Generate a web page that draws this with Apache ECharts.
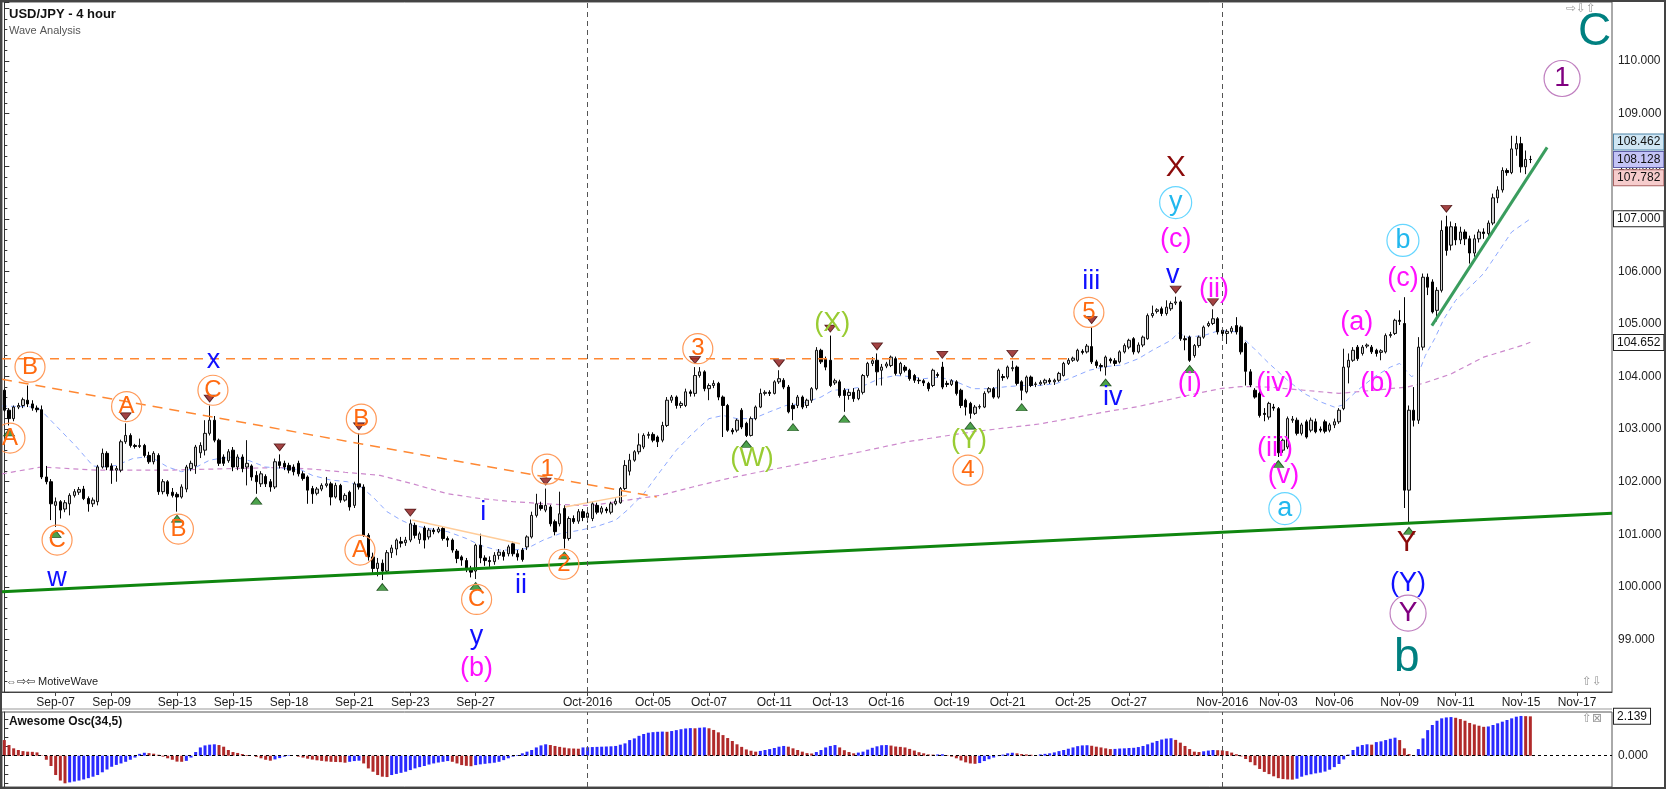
<!DOCTYPE html>
<html><head><meta charset="utf-8">
<script src="https://cdn.jsdelivr.net/npm/echarts@6/dist/echarts.min.js"></script>
<style>html,body{margin:0;padding:0;background:#fff}#c{width:1668px;height:789px}</style>
</head><body><div id="c"></div>
<script>
// ---------- DATA ----------
const tickIndex = [11,23,37,49,61,75,87,101,125,139,151,165,177,189,203,215,229,241,261,273,285,299,311,325,337];
const tickLabels = ['Sep-07','Sep-09','Sep-13','Sep-15','Sep-18','Sep-21','Sep-23','Sep-27','Oct-2016','Oct-05','Oct-07','Oct-11','Oct-13','Oct-16','Oct-19','Oct-21','Oct-25','Oct-27','Nov-2016','Nov-03','Nov-06','Nov-09','Nov-11','Nov-15','Nov-17'];
const slotCount = 345;
// [open, close, low, high] per 4-hour candle
const candles = [
[103.74,103.36,103.33,103.77],[103.36,103.20,103.07,103.40],[103.20,103.42,103.15,103.45],[103.42,103.45,103.38,103.50],[103.45,103.56,103.40,103.60],[103.55,103.48,103.42,103.83],[103.48,103.40,103.35,103.55],[103.40,103.37,103.32,103.45],[103.37,102.09,102.05,103.45],[102.09,102.00,101.95,102.30],
[102.00,101.58,101.27,102.05],[101.55,101.62,101.14,101.70],[101.62,101.46,101.30,101.65],[101.48,101.60,101.42,101.65],[101.58,101.74,101.36,101.78],[101.74,101.81,101.70,101.86],[101.80,101.85,101.75,101.90],[101.86,101.68,101.65,101.92],[101.68,101.58,101.43,101.72],[101.58,101.65,101.52,101.70],
[101.62,102.28,101.55,102.32],[102.28,102.54,102.25,102.63],[102.54,102.28,102.22,102.58],[102.30,102.22,101.96,102.35],[102.22,102.25,102.00,102.30],[102.22,102.76,102.18,102.80],[102.76,102.88,102.72,103.11],[102.88,102.69,102.65,102.92],[102.69,102.67,102.63,102.72],[102.67,102.69,102.64,102.82],
[102.69,102.50,102.46,102.72],[102.50,102.38,102.34,102.57],[102.38,102.54,102.33,102.58],[102.50,101.81,101.75,102.54],[101.81,102.00,101.76,102.05],[102.00,101.77,101.72,102.03],[101.80,101.74,101.70,101.88],[101.76,101.71,101.43,101.80],[101.71,101.90,101.68,101.95],[101.86,102.28,101.80,102.32],
[102.25,102.35,102.20,102.40],[102.30,102.66,102.15,102.70],[102.55,102.69,102.45,102.75],[102.60,102.92,102.50,103.17],[102.92,103.17,102.88,103.45],[103.17,102.79,102.75,103.25],[102.79,102.35,102.30,102.82],[102.47,102.35,102.30,102.52],[102.40,102.57,102.36,102.62],[102.60,102.28,102.20,102.66],
[102.28,102.47,102.22,102.52],[102.47,102.25,102.18,102.52],[102.28,102.35,101.93,102.79],[102.30,102.09,102.02,102.33],[102.12,102.00,101.77,102.20],[101.96,102.15,101.90,102.20],[102.10,101.96,101.90,102.14],[102.00,101.90,101.81,102.05],[101.90,102.38,101.86,102.44],[102.38,102.31,102.25,102.52],
[102.35,102.28,102.22,102.40],[102.31,102.22,102.16,102.36],[102.28,102.19,102.12,102.33],[102.35,102.15,102.10,102.40],[102.15,102.06,102.02,102.20],[102.09,101.84,101.58,102.12],[101.87,101.77,101.58,101.92],[101.78,101.86,101.74,101.90],[101.86,101.93,101.82,101.97],[101.93,101.96,101.89,102.09],
[101.96,101.71,101.55,102.00],[101.71,101.93,101.68,101.98],[101.93,101.65,101.60,101.96],[101.65,101.74,101.62,101.78],[101.80,101.52,101.45,101.83],[101.55,101.96,101.50,102.00],[101.96,101.90,101.85,102.92],[101.90,100.98,100.95,101.95],[100.98,100.57,100.50,101.02],[100.57,100.35,100.25,100.65],
[100.35,100.45,100.20,100.55],[100.45,100.30,100.13,100.52],[100.30,100.65,100.28,100.70],[100.65,100.74,100.55,100.80],[100.72,100.89,100.60,100.92],[100.86,100.83,100.75,100.95],[100.84,100.89,100.78,100.95],[100.89,101.20,100.85,101.28],[101.17,100.98,100.92,101.22],[100.90,101.01,100.82,101.05],
[101.12,100.89,100.73,101.16],[100.95,101.08,100.90,101.12],[101.08,101.05,101.00,101.12],[101.05,101.10,101.02,101.14],[101.11,100.92,100.88,101.15],[100.92,100.89,100.76,100.96],[100.89,100.70,100.65,100.92],[100.68,100.54,100.45,100.72],[100.57,100.51,100.40,100.60],[100.50,100.35,100.28,100.55],
[100.35,100.28,100.18,100.40],[100.30,100.79,100.15,100.82],[100.79,100.55,100.45,101.01],[100.55,100.50,100.40,100.60],[100.50,100.48,100.38,100.58],[100.48,100.60,100.42,100.66],[100.60,100.66,100.52,100.72],[100.66,100.58,100.50,100.70],[100.63,100.76,100.58,100.80],[100.82,100.63,100.58,100.86],
[100.63,100.57,100.50,100.70],[100.70,100.52,100.48,100.74],[100.76,100.95,100.70,100.98],[100.95,101.36,100.92,101.43],[101.36,101.58,101.32,101.77],[101.55,101.49,101.45,101.62],[101.46,101.55,101.42,101.87],[101.52,101.20,101.15,101.56],[101.24,101.05,100.98,101.28],[101.20,101.39,101.15,101.81],
[101.49,100.92,100.73,101.55],[100.92,101.30,100.88,101.34],[101.30,101.24,101.20,101.36],[101.25,101.43,101.20,101.48],[101.43,101.32,101.25,101.48],[101.32,101.40,101.22,101.45],[101.30,101.58,101.25,101.62],[101.55,101.42,101.38,101.60],[101.42,101.50,101.38,101.54],[101.48,101.45,101.40,101.52],
[101.42,101.58,101.38,101.62],[101.58,101.63,101.55,101.68],[101.60,101.87,101.58,101.90],[101.87,102.31,101.84,102.41],[102.20,102.41,102.12,102.53],[102.41,102.57,102.38,102.60],[102.57,102.70,102.52,102.92],[102.66,102.88,102.62,102.92],[102.88,102.90,102.82,102.95],[102.90,102.79,102.75,102.94],
[102.85,102.76,102.66,102.88],[102.79,103.07,102.75,103.14],[103.07,103.55,103.04,103.61],[103.55,103.61,103.50,103.65],[103.61,103.45,103.39,103.64],[103.45,103.49,103.40,103.53],[103.45,103.71,103.42,103.77],[103.71,103.68,103.62,103.75],[103.68,104.02,103.62,104.18],[104.02,104.09,103.98,104.18],
[104.09,103.77,103.72,104.12],[103.77,103.83,103.55,103.87],[103.83,103.87,103.78,103.93],[103.87,103.61,103.55,103.90],[103.61,103.45,102.85,103.64],[103.45,102.98,102.95,103.48],[102.98,102.95,102.90,103.02],[102.98,103.17,102.94,103.20],[103.36,103.04,103.00,103.40],[103.11,102.88,102.85,103.14],
[102.88,103.20,102.86,103.24],[103.20,103.42,103.17,103.45],[103.42,103.68,103.40,103.77],[103.68,103.70,103.64,103.74],[103.70,103.68,103.63,103.74],[103.68,103.90,103.66,103.93],[103.90,103.96,103.86,104.12],[103.93,103.80,103.76,103.97],[103.80,103.33,103.30,103.84],[103.45,103.39,103.17,103.50],
[103.45,103.61,103.40,103.65],[103.61,103.42,103.38,103.64],[103.45,103.55,103.40,103.58],[103.55,103.77,103.50,103.80],[103.77,104.50,103.74,104.56],[104.50,104.28,104.24,104.53],[104.34,104.18,104.12,104.38],[104.31,103.83,103.80,104.78],[103.88,103.92,103.84,103.96],[103.90,103.64,103.60,103.94],
[103.74,103.64,103.33,103.78],[103.64,103.70,103.56,103.76],[103.70,103.58,103.52,103.78],[103.58,103.74,103.55,103.78],[103.70,104.02,103.66,104.05],[104.02,104.25,103.98,104.28],[104.25,104.30,104.20,104.37],[104.31,104.09,103.83,104.44],[104.12,104.18,103.83,104.24],[104.20,104.24,104.16,104.28],
[104.21,104.37,104.18,104.40],[104.34,104.06,104.02,104.38],[104.06,104.25,104.02,104.28],[104.18,104.12,104.08,104.22],[104.12,103.96,103.92,104.15],[104.02,103.93,103.88,104.05],[103.93,103.92,103.86,103.98],[103.92,103.88,103.82,103.95],[103.87,103.77,103.72,103.90],[103.83,104.12,103.80,104.15],
[104.04,104.02,103.98,104.08],[104.18,103.80,103.76,104.28],[103.87,103.85,103.80,103.92],[103.85,103.92,103.82,103.95],[103.90,103.68,103.64,103.93],[103.74,103.45,103.40,103.77],[103.55,103.42,103.26,103.58],[103.49,103.30,103.20,103.52],[103.30,103.42,103.27,103.46],[103.42,103.43,103.38,103.47],
[103.42,103.68,103.40,103.72],[103.71,103.77,103.68,103.80],[103.77,103.61,103.58,103.80],[103.61,104.12,103.58,104.15],[104.00,103.98,103.92,104.05],[103.99,104.18,103.95,104.21],[104.15,104.17,104.10,104.30],[104.18,103.87,103.83,104.21],[103.90,103.74,103.55,103.93],[103.71,103.99,103.68,104.02],
[103.99,103.83,103.80,104.02],[103.85,103.86,103.80,103.90],[103.86,103.89,103.83,103.93],[103.88,103.93,103.84,103.96],[103.93,103.90,103.86,103.97],[103.90,103.93,103.84,103.96],[103.93,104.06,103.90,104.09],[104.02,104.25,104.00,104.28],[104.25,104.31,104.22,104.35],[104.31,104.35,104.28,104.38],
[104.31,104.50,104.28,104.53],[104.48,104.46,104.42,104.52],[104.47,104.58,104.44,104.62],[104.57,104.28,104.24,104.94],[104.28,104.21,104.16,104.32],[104.21,104.19,104.10,104.25],[104.18,104.37,104.02,104.40],[104.33,104.30,104.25,104.36],[104.30,104.25,104.20,104.35],[104.28,104.47,104.25,104.50],
[104.47,104.59,104.44,104.63],[104.56,104.69,104.52,104.72],[104.72,104.47,104.42,104.75],[104.47,104.60,104.44,104.65],[104.60,104.75,104.56,104.78],[104.72,105.16,104.70,105.20],[105.16,105.20,105.12,105.35],[105.24,105.27,105.20,105.30],[105.29,105.20,105.15,105.33],[105.20,105.32,105.16,105.45],
[105.29,105.39,105.25,105.43],[105.40,105.42,105.36,105.52],[105.42,104.72,104.68,105.45],[104.72,104.70,104.50,104.78],[104.75,104.31,104.28,104.78],[104.40,104.59,104.36,104.62],[104.59,104.75,104.55,104.78],[104.75,104.94,104.72,104.97],[104.97,105.01,104.94,105.05],[105.01,105.10,104.98,105.28],
[105.10,104.85,104.80,105.13],[104.88,104.82,104.76,104.92],[104.82,104.86,104.62,104.90],[104.86,104.92,104.82,104.96],[104.97,104.85,104.80,105.13],[104.94,104.47,104.42,104.97],[104.63,104.10,103.83,104.66],[104.09,103.84,103.80,104.14],[103.74,103.61,103.58,103.78],[103.68,103.26,103.22,103.72],
[103.30,103.28,103.15,103.40],[103.23,103.49,103.18,103.52],[103.42,103.40,103.35,103.48],[103.39,102.55,102.47,103.42],[102.60,102.79,102.55,102.82],[102.66,103.20,102.62,103.24],[103.17,103.19,103.12,103.25],[103.17,102.92,102.88,103.22],[102.92,103.08,102.88,103.12],[103.14,102.85,102.82,103.18],
[102.98,103.17,102.94,103.22],[103.14,102.95,102.92,103.20],[103.00,102.98,102.94,103.05],[103.14,102.96,102.92,103.18],[102.98,103.08,102.94,103.12],[103.08,103.14,103.02,103.20],[103.14,103.36,103.10,103.40],[103.39,104.18,103.36,104.53],[104.18,104.31,103.87,104.44],[104.31,104.50,104.28,104.56],
[104.56,104.34,104.30,104.60],[104.44,104.56,104.40,104.60],[104.58,104.60,104.54,104.63],[104.56,104.47,104.43,104.60],[104.50,104.44,104.38,104.53],[104.46,104.49,104.31,104.52],[104.47,104.78,104.44,104.82],[104.78,104.80,104.74,104.85],[104.82,105.07,104.79,105.10],[105.07,105.05,104.98,105.26],
[105.01,101.84,101.50,105.51],[101.84,103.36,101.20,103.45],[103.36,103.17,103.05,103.80],[103.17,104.56,103.10,104.75],[104.56,105.89,104.50,105.96],[105.89,105.70,105.55,105.96],[105.80,105.23,105.20,105.85],[105.26,105.64,105.05,105.70],[105.64,106.78,105.60,106.97],[106.85,106.40,106.30,107.06],
[106.50,106.85,106.40,106.95],[106.85,106.60,106.50,106.92],[106.60,106.75,106.52,106.85],[106.75,106.62,106.50,106.80],[106.62,106.35,106.15,106.68],[106.35,106.62,106.28,106.70],[106.62,106.75,106.55,106.80],[106.75,106.72,106.62,106.82],[106.72,106.92,106.66,106.97],[106.92,107.40,106.88,107.48],
[107.40,107.55,107.30,107.62],[107.55,107.92,107.50,107.98],[107.92,107.88,107.82,107.96],[107.88,108.33,107.85,108.58],[108.33,108.43,108.20,108.58],[108.43,107.99,107.88,108.56],[107.99,108.13,107.85,108.30],[108.13,108.128,108.06,108.20]
];
// Awesome Oscillator (34,5), one value per candle
const aoValues = [
0.85,0.58,0.40,0.31,0.25,0.22,0.21,0.18,0.02,-0.22,
-0.56,-1.05,-1.35,-1.50,-1.45,-1.40,-1.35,-1.29,-1.22,-1.14,
-1.05,-0.90,-0.75,-0.60,-0.50,-0.42,-0.33,-0.22,-0.10,0.10,
0.16,0.14,0.11,0.05,-0.05,-0.14,-0.22,-0.32,-0.33,-0.28,
-0.10,0.20,0.45,0.56,0.60,0.62,0.58,0.49,0.31,0.20,
0.15,0.09,0.04,0.00,-0.06,-0.14,-0.22,-0.27,-0.20,-0.13,
-0.05,0.03,0.00,-0.05,-0.10,-0.16,-0.21,-0.25,-0.28,-0.31,
-0.33,-0.34,-0.35,-0.38,-0.33,-0.29,-0.27,-0.42,-0.69,-0.87,
-1.05,-1.14,-1.16,-1.05,-0.99,-0.93,-0.87,-0.78,-0.69,-0.62,
-0.56,-0.48,-0.42,-0.37,-0.33,-0.29,-0.33,-0.42,-0.51,-0.55,
-0.57,-0.51,-0.47,-0.44,-0.41,-0.38,-0.33,-0.24,-0.14,-0.05,
0.04,0.13,0.22,0.31,0.45,0.56,0.62,0.58,0.53,0.48,
0.44,0.40,0.39,0.38,0.45,0.46,0.47,0.48,0.49,0.50,
0.51,0.53,0.60,0.67,0.85,0.94,1.08,1.18,1.25,1.28,
1.30,1.31,1.30,1.34,1.39,1.44,1.48,1.50,1.49,1.52,
1.54,1.49,1.40,1.27,1.12,0.96,0.80,0.62,0.48,0.34,
0.27,0.22,0.26,0.31,0.36,0.42,0.49,0.53,0.49,0.40,
0.31,0.22,0.14,0.12,0.20,0.31,0.45,0.53,0.58,0.45,
0.30,0.20,0.13,0.17,0.22,0.33,0.43,0.51,0.57,0.58,
0.55,0.50,0.48,0.45,0.37,0.28,0.19,0.13,0.07,0.06,
0.07,0.08,0.03,-0.05,-0.14,-0.26,-0.36,-0.42,-0.44,-0.40,
-0.29,-0.19,-0.10,-0.02,0.06,0.13,0.16,0.13,0.09,0.07,
0.05,0.04,0.07,0.10,0.13,0.18,0.25,0.31,0.38,0.45,
0.52,0.56,0.57,0.54,0.49,0.45,0.40,0.36,0.37,0.39,
0.40,0.42,0.43,0.47,0.53,0.62,0.71,0.80,0.88,0.93,
0.95,0.86,0.71,0.53,0.36,0.22,0.20,0.24,0.28,0.31,
0.30,0.29,0.25,0.17,0.08,-0.04,-0.18,-0.35,-0.52,-0.72,
-0.88,-1.00,-1.12,-1.22,-1.27,-1.29,-1.30,-1.25,-1.14,-1.06,
-1.01,-0.96,-0.92,-0.86,-0.76,-0.62,-0.45,-0.20,0.06,0.31,
0.49,0.58,0.62,0.60,0.74,0.78,0.85,0.92,0.98,0.85,
0.40,0.09,0.04,0.36,0.94,1.39,1.67,1.90,2.03,2.08,
2.10,2.06,1.99,1.90,1.78,1.70,1.63,1.57,1.59,1.67,
1.76,1.85,1.94,2.03,2.12,2.16,2.15,2.139
];
// moving averages read at sample points [candle index, price]
const fastMA = [[-0.5,103.44],[7,103.42],[8.5,103.30],[12,102.98],[15.5,102.66],[19,102.30],[21,102.28],[24,102.31],[27.5,102.44],[30,102.47],[32,102.44],[35,102.28],[38,102.19],[40.5,102.25],[44,102.41],[46,102.44],[49,102.47],[52.5,102.40],[56,102.28],[60,102.25],[63.5,102.23],[66,102.12],[70,102.03],[73.5,102.00],[76,101.93],[79,101.71],[82,101.43],[85,101.27],[87.5,101.17],[91,101.11],[95,101.05],[99,100.92],[102,100.79],[105.5,100.70],[109,100.70],[112,100.73],[115.5,100.89],[119,101.01],[123.5,101.08],[127,101.15],[131,101.27],[133.5,101.46],[137,101.77],[140.5,102.19],[144,102.60],[147.5,102.92],[151,103.20],[154,103.26],[157,103.20],[160.5,103.20],[164,103.33],[167.5,103.45],[171,103.49],[175,103.61],[177.5,103.74],[181,103.76],[183.5,103.80],[187.5,103.96],[191,104.02],[194,104.00],[197,103.96],[200.5,103.99],[204,103.90],[207.5,103.77],[211,103.77],[215,103.81],[218.5,103.83],[222,103.83],[225.5,103.87],[229,103.99],[232.5,104.12],[236,104.19],[239.5,104.22],[243,104.34],[246,104.50],[250,104.69],[251.5,104.83],[253.5,104.75],[257,104.78],[260.5,104.88],[264,104.85],[267.5,104.56],[271,104.25],[275,103.93],[278.5,103.68],[282,103.52],[285,103.42],[286.5,103.45],[290,103.74],[293.5,103.99],[297,104.18],[299,104.25],[301.5,104.00],[303,104.05],[304.5,104.40],[306.5,104.72],[308.5,105.10],[311,105.45],[314,105.70],[317,105.96],[320.5,106.42],[323,106.75],[327,107.00]];
const slowMA = [[-0.5,102.15],[8,102.28],[20,102.22],[35,102.22],[49,102.25],[59,102.27],[66,102.24],[73,102.18],[80.5,102.12],[87.5,101.96],[95,101.77],[102,101.68],[109,101.62],[116,101.58],[123,101.55],[126,101.55],[133.5,101.65],[140.5,101.74],[147.5,101.90],[155,102.06],[162,102.19],[169,102.31],[176,102.44],[183.5,102.57],[193.5,102.76],[207.5,102.95],[222,103.10],[236,103.33],[243,103.43],[246,103.49],[253.5,103.64],[260.5,103.77],[265,103.81],[271,103.80],[278.5,103.74],[286,103.68],[293.5,103.74],[300.5,103.80],[304,103.87],[310,104.05],[317,104.37],[325.5,104.60],[327,104.652]];
// drawn trend lines [candle index, price]
const supportLine = [[-0.5,99.907],[344.5,101.40]];
const risingLine = [[305.9,104.97],[330.6,108.36]];
const flatResistance = [[-0.5,104.34],[228.7,104.34]];
const fallingResistance = [[-0.5,103.95],[139.8,101.71]];
const paleChannelA = [[87.4,101.27],[110.5,100.82]];
const paleChannelB = [[120.1,101.52],[133.4,101.74]];
const monthStarts = [125, 261];
const pivotHighs = [26,44,59,76,87,116,148,166,177,187,201,216,233,251,259,309];
const pivotLows = [1,11,37,54,81,101,120,159,169,180,207,218,236,254,273,301];
const priceFlagValues = [108.462,108.128,107.782,107.000,104.652];
const aoFlagValue = 2.139;
// wave labels [candle index, price, text]
const orangeCircled = [[1.2,102.83,'A'],[5.5,104.18,'B'],[11.3,100.89,'C'],[26.2,103.43,'A'],[37.3,101.10,'B'],[44.7,103.74,'C'],[76.5,103.19,'B'],[76.2,100.70,'A'],[101.2,99.76,'C'],[116.3,102.24,'1'],[119.9,100.43,'2'],[148.6,104.53,'3'],[206.5,102.22,'4'],[232.4,105.22,'5']];
const blueLabels = [[11.3,100.16,'w'],[44.8,104.31,'x'],[102.6,101.42,'i'],[110.7,100.03,'ii'],[101.2,99.06,'y'],[232.9,105.81,'iii'],[237.5,103.61,'iv'],[250.4,105.92,'v'],[300.8,100.07,'(Y)']];
const magentaLabels = [[101.2,98.45,'(b)'],[251,106.61,'(c)'],[254,103.87,'(i)'],[259.2,105.66,'(ii)'],[272.3,102.63,'(iii)'],[272.3,103.87,'(iv)'],[274.1,102.12,'(v)'],[289.8,105.03,'(a)'],[294.1,103.87,'(b)'],[299.7,105.87,'(c)']];
const greenLabels = [[160.2,102.44,'(W)'],[177.4,105.01,'(X)'],[206.7,102.79,'(Y)']];
const cyanCircled = [[251,107.31,'y'],[274.4,101.49,'a'],[299.7,106.59,'b']];
const darkRedLabels = [[251,107.98,'X'],[300.5,100.83,'Y']];
const purpleCircled = [[300.8,99.50,'Y'],[333.8,109.67,'1']];
const tealLabels = [[300.5,98.64,'b'],[340.8,110.54,'C']];

// ---------- CHART ----------
const FONT = 'Liberation Sans, Arial, Helvetica, sans-serif';
const categories = Array.from({length: slotCount}, (_, i) => String(i));
const tickMap = {};
tickIndex.forEach((idx, k) => { tickMap[idx] = tickLabels[k]; });
const BLUE = '#2a2aff', RED = '#b02a2a';
const CLEAR = 'rgba(0,0,0,0)';

function labelSeries(arr, color, size, ring, ringColor) {
  return {
    type: 'scatter', xAxisIndex: 2, yAxisIndex: 0, z: 8, silent: true, animation: false,
    symbol: 'circle', symbolSize: ring || 1,
    itemStyle: { color: 'rgba(255,255,255,0)', borderColor: ring ? ringColor : CLEAR, borderWidth: ring ? 1.2 : 0, opacity: 1 },
    label: { show: true, position: 'inside', formatter: '{b}', color: color, fontSize: size, fontFamily: FONT },
    data: arr.map(d => ({ value: [d[0], d[1]], name: d[2] }))
  };
}
function lineSeries(arr, color, width, type, z) {
  return { type: 'line', xAxisIndex: 2, yAxisIndex: 0, data: arr, showSymbol: false, symbol: 'none', silent: true,
    animation: false, z: z || 3, lineStyle: { color: color, width: width, type: type || 'solid' } };
}
const flagStyles = [
  { bg: '#cfe6f4', border: '#4f86a8' },
  { bg: '#c4c4f6', border: '#5e5ea8' },
  { bg: '#f6cccc', border: '#a86464' },
  { bg: '#ffffff', border: '#222222' },
  { bg: '#ffffff', border: '#222222' }
];
function flagLabel(v, style) {
  return { show: true, position: 'end', distance: 2, formatter: v.toFixed(3), fontSize: 12, fontFamily: FONT,
    color: '#111', backgroundColor: style.bg, borderColor: style.border, borderWidth: 1, padding: [2, 3, 1, 3], opacity: 1 };
}

const option = {
  animation: false,
  backgroundColor: '#ffffff',
  title: {
    text: 'USD/JPY - 4 hour', subtext: 'Wave Analysis', left: 4, top: 3, itemGap: 4,
    textStyle: { fontSize: 13, fontWeight: 'bold', color: '#111', fontFamily: FONT },
    subtextStyle: { fontSize: 11, color: '#555', fontFamily: FONT }
  },
  grid: [
    { left: 2, top: 2, width: 1610, height: 690, show: true, borderColor: '#555', borderWidth: 1, backgroundColor: '#fff' },
    { left: 2, top: 712, width: 1610, height: 75, show: true, borderColor: '#555', borderWidth: 1, backgroundColor: '#fff' }
  ],
  xAxis: [
    { gridIndex: 0, type: 'category', data: categories, boundaryGap: true,
      axisLine: { show: true, lineStyle: { color: '#444' } },
      axisTick: { show: true, alignWithLabel: true, length: 4, interval: (i) => tickMap[i] !== undefined, lineStyle: { color: '#444' } },
      axisLabel: { interval: 0, margin: 5, fontSize: 12, color: '#222', fontFamily: FONT, formatter: (v, i) => tickMap[i] || '' },
      splitLine: { show: false } },
    { gridIndex: 1, type: 'category', data: categories, boundaryGap: true,
      axisLine: { show: false }, axisTick: { show: false }, axisLabel: { show: false }, splitLine: { show: false } },
    { gridIndex: 0, type: 'value', min: -0.5, max: slotCount - 0.5, show: false },
    { gridIndex: 1, type: 'value', min: -0.5, max: slotCount - 0.5, show: false }
  ],
  yAxis: [
    { gridIndex: 0, type: 'value', position: 'right', min: 98, max: 111.125, interval: 1,
      axisLine: { show: true, lineStyle: { color: '#333' } },
      axisTick: { show: true, length: 5, lineStyle: { color: '#333' } },
      minorTick: { show: true, splitNumber: 5, length: 3, lineStyle: { color: '#333' } },
      axisLabel: { margin: 6, fontSize: 12, color: '#222', fontFamily: FONT,
        formatter: v => (v < 98.5 || v > 110.5) ? '' : v.toFixed(3) },
      splitLine: { show: false } },
    { gridIndex: 1, type: 'value', position: 'right', min: -1.70, max: 2.375,
      axisLine: { show: true, lineStyle: { color: '#333' } },
      axisTick: { show: true, length: 4, customValues: [-1.5, -1, -0.5, 0, 0.5, 1, 1.5, 2], lineStyle: { color: '#333' } },
      axisLabel: { margin: 6, fontSize: 12, color: '#222', fontFamily: FONT, customValues: [0], formatter: v => v.toFixed(3) },
      splitLine: { show: false } }
  ],
  graphic: [
    { type: 'rect', shape: { x: 1, y: 1, width: 1664, height: 787 }, style: { fill: null, stroke: '#444', lineWidth: 2 }, silent: true, z: 100 },
    { type: 'line', shape: { x1: 2, y1: 709, x2: 1612, y2: 709 }, style: { stroke: '#999', lineWidth: 1 }, silent: true },
    { type: 'text', left: 6, top: 676, style: { text: '\u21D4\u21E8\u21E6 MotiveWave', font: '11px ' + FONT, fill: '#222' }, silent: true },
    { type: 'text', left: 1566, top: 3, style: { text: '\u21E8\u21E9\u21E7', font: '12px DejaVu Sans', fill: '#999' }, silent: true },
    { type: 'text', left: 1582, top: 676, style: { text: '\u21E7\u21E9', font: '12px DejaVu Sans', fill: '#999' }, silent: true },
    { type: 'text', left: 1582, top: 713, style: { text: '\u21E7\u22A0', font: '12px DejaVu Sans', fill: '#999' }, silent: true },
    { type: 'text', left: 9, top: 716, style: { text: 'Awesome Osc(34,5)', font: 'bold 12px ' + FONT, fill: '#111' }, silent: true }
  ],
  series: [
    lineSeries(slowMA, '#cc88cc', 1.2, [5, 4], 1),
    lineSeries(fastMA, '#8ea9ff', 1, [5, 4], 1),
    {
      type: 'candlestick', xAxisIndex: 0, yAxisIndex: 0, data: candles, barWidth: 3, z: 2, silent: true,
      itemStyle: { color: '#d0d0d0', color0: '#000000', borderColor: '#111111', borderColor0: '#000000', borderWidth: 1 }
    },
    {
      type: 'line', xAxisIndex: 2, yAxisIndex: 0, data: [], silent: true, z: 20,
      markLine: {
        symbol: 'none', silent: true, animation: false, z: 20,
        lineStyle: { color: CLEAR, width: 1, type: 'solid' },
        data: priceFlagValues.map((v, k) => ({ yAxis: v, lineStyle: { color: CLEAR }, label: flagLabel(v, flagStyles[k]) }))
      }
    },
    lineSeries(supportLine, '#0f860f', 3),
    lineSeries(risingLine, '#3a9d5e', 3),
    lineSeries(flatResistance, '#ff8833', 1.5, [9, 7]),
    lineSeries(fallingResistance, '#ff8833', 1.5, [10, 7]),
    lineSeries(paleChannelA, '#ffcc99', 1.5),
    lineSeries(paleChannelB, '#ffcc99', 1.5),
    {
      type: 'line', xAxisIndex: 2, yAxisIndex: 0, data: [], silent: true,
      markLine: { symbol: 'none', silent: true, animation: false, label: { show: false },
        lineStyle: { type: [5, 4], color: '#555', width: 1 },
        data: monthStarts.map(i => ({ xAxis: i })) }
    },
    {
      type: 'line', xAxisIndex: 3, yAxisIndex: 1, data: [], silent: true,
      markLine: { symbol: 'none', silent: true, animation: false, label: { show: false },
        lineStyle: { type: [5, 4], color: '#555', width: 1 },
        data: monthStarts.map(i => ({ xAxis: i })) }
    },
    {
      type: 'scatter', xAxisIndex: 2, yAxisIndex: 0, z: 5, silent: true,
      symbol: 'triangle', symbolSize: [11, 7], symbolRotate: 180, symbolOffset: [0, -7],
      itemStyle: { color: '#8b1414', borderColor: '#3a0000', borderWidth: 0.8 },
      data: pivotHighs.map(i => [i, candles[i][3]])
    },
    {
      type: 'scatter', xAxisIndex: 2, yAxisIndex: 0, z: 5, silent: true,
      symbol: 'triangle', symbolSize: [11, 7], symbolOffset: [0, 7],
      itemStyle: { color: '#1f8a1f', borderColor: '#0a3a0a', borderWidth: 0.8 },
      data: pivotLows.map(i => [i, candles[i][2]])
    },
    labelSeries(orangeCircled, '#ff6a10', 24, 30, '#ff9a5a'),
    labelSeries(blueLabels, '#1010ff', 27),
    labelSeries(magentaLabels, '#ff10ff', 27),
    labelSeries(greenLabels, '#99cc33', 27),
    labelSeries(cyanCircled, '#22b8ee', 27, 32, '#66d6ff'),
    labelSeries(darkRedLabels, '#8b0a0a', 30),
    labelSeries(purpleCircled, '#800080', 28, 36, '#c080c0'),
    labelSeries(tealLabels, '#008080', 46),
    {
      type: 'bar', xAxisIndex: 1, yAxisIndex: 1, barWidth: 3, silent: true,
      data: aoValues.map((v, i) => ({ value: v, itemStyle: { color: (i > 0 && v > aoValues[i - 1]) ? BLUE : RED } })),
      markLine: {
        symbol: 'none', silent: true, animation: false,
        data: [
          { yAxis: 0, lineStyle: { type: [3, 3], color: '#000', width: 1 }, label: { show: false } },
          { yAxis: aoFlagValue, lineStyle: { color: CLEAR }, label: flagLabel(aoFlagValue, { bg: '#ffffff', border: '#222222' }) }
        ]
      }
    }
  ]
};
const chart = echarts.init(document.getElementById('c'), null, { renderer: 'canvas' });
chart.setOption(option);
</script>
</body></html>
